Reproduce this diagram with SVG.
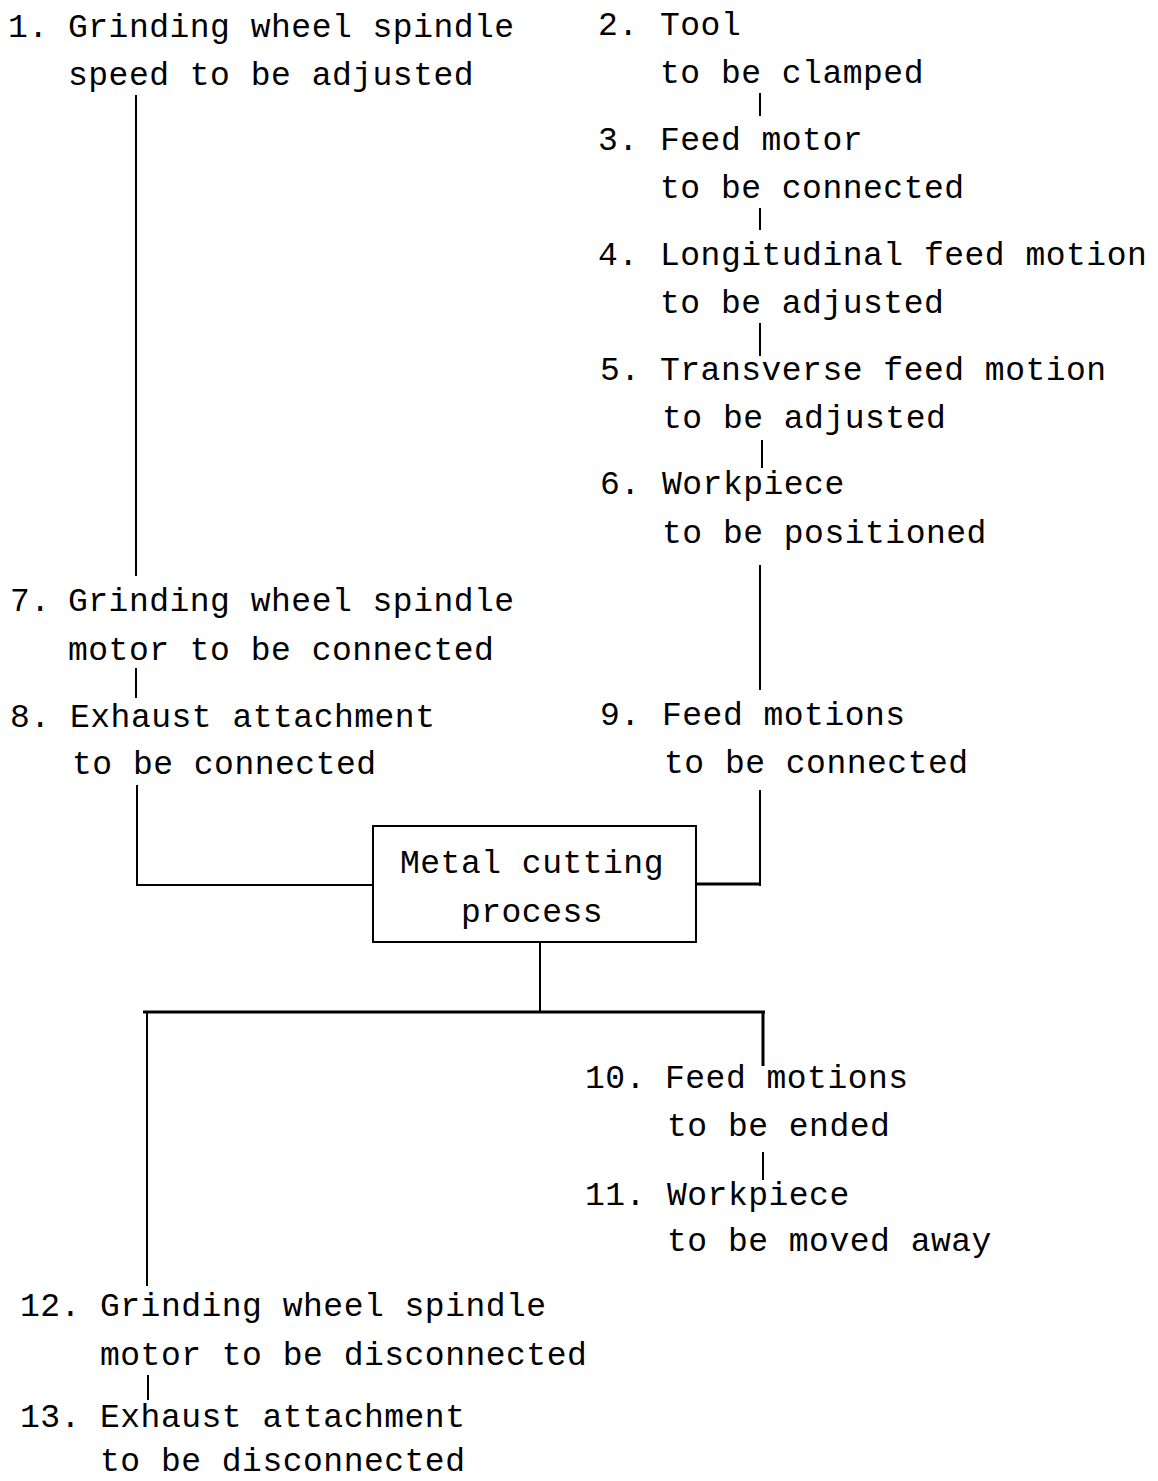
<svg xmlns="http://www.w3.org/2000/svg" width="1158" height="1481" viewBox="0 0 1158 1481">
<style>
text{font-family:"Liberation Mono","DejaVu Sans Mono",monospace;font-size:33px;letter-spacing:0.5px;fill:#000}
.c line{stroke:#000;stroke-width:2}
.c .t{stroke-width:3}
.box{fill:#fff;stroke:#000;stroke-width:2}
</style>
<rect width="1158" height="1481" fill="#fff"/>
<g class="c" id="connectors">
<line x1="136" y1="95" x2="136" y2="576"/>
<line x1="760" y1="93" x2="760" y2="116"/>
<line x1="760" y1="208" x2="760" y2="230"/>
<line x1="760" y1="323" x2="760" y2="356"/>
<line x1="762" y1="440" x2="762" y2="468"/>
<line x1="760" y1="565" x2="760" y2="690"/>
<line x1="136" y1="668" x2="136" y2="698"/>
<line x1="137" y1="785" x2="137" y2="886"/>
<line x1="137" y1="885" x2="373" y2="885"/>
<line x1="760" y1="790" x2="760" y2="886"/>
<line class="t" x1="696" y1="884" x2="761" y2="884"/>
<line x1="540" y1="942" x2="540" y2="1012"/>
<line class="t" x1="143" y1="1012" x2="765" y2="1012"/>
<line class="t" x1="763" y1="1012" x2="763" y2="1066"/>
<line x1="147" y1="1012" x2="147" y2="1286"/>
<line x1="763" y1="1152" x2="763" y2="1180"/>
<line x1="148" y1="1375" x2="148" y2="1400"/>
</g>
<g id="n1"><text x="8" y="37">1.</text><text x="68" y="37">Grinding wheel spindle</text><text x="68" y="85">speed to be adjusted</text></g>
<g id="n2"><text x="598" y="35">2.</text><text x="660" y="35">Tool</text><text x="660" y="83">to be clamped</text></g>
<g id="n3"><text x="598" y="150">3.</text><text x="660" y="150">Feed motor</text><text x="660" y="198">to be connected</text></g>
<g id="n4"><text x="598" y="265">4.</text><text x="660" y="265">Longitudinal feed motion</text><text x="660" y="313">to be adjusted</text></g>
<g id="n5"><text x="600" y="380">5.</text><text x="660" y="380">Transverse feed motion</text><text x="662" y="428">to be adjusted</text></g>
<g id="n6"><text x="600" y="494">6.</text><text x="662" y="494">Workpiece</text><text x="662" y="543">to be positioned</text></g>
<g id="n7"><text x="10" y="611">7.</text><text x="68" y="611">Grinding wheel spindle</text><text x="68" y="660">motor to be connected</text></g>
<g id="n8"><text x="10" y="727">8.</text><text x="70" y="727">Exhaust attachment</text><text x="72" y="774">to be connected</text></g>
<g id="n9"><text x="600" y="725">9.</text><text x="662" y="725">Feed motions</text><text x="664" y="773">to be connected</text></g>
<g id="process"><rect class="box" x="373" y="826" width="323" height="116"/><text x="532" y="873" text-anchor="middle">Metal cutting</text><text x="532" y="922" text-anchor="middle">process</text></g>
<g id="n10"><text x="585" y="1088">10.</text><text x="665" y="1088">Feed motions</text><text x="667" y="1136">to be ended</text></g>
<g id="n11"><text x="585" y="1205">11.</text><text x="667" y="1205">Workpiece</text><text x="667" y="1251">to be moved away</text></g>
<g id="n12"><text x="20" y="1316">12.</text><text x="100" y="1316">Grinding wheel spindle</text><text x="100" y="1365">motor to be disconnected</text></g>
<g id="n13"><text x="20" y="1427">13.</text><text x="100" y="1427">Exhaust attachment</text><text x="100" y="1471">to be disconnected</text></g>
</svg>
